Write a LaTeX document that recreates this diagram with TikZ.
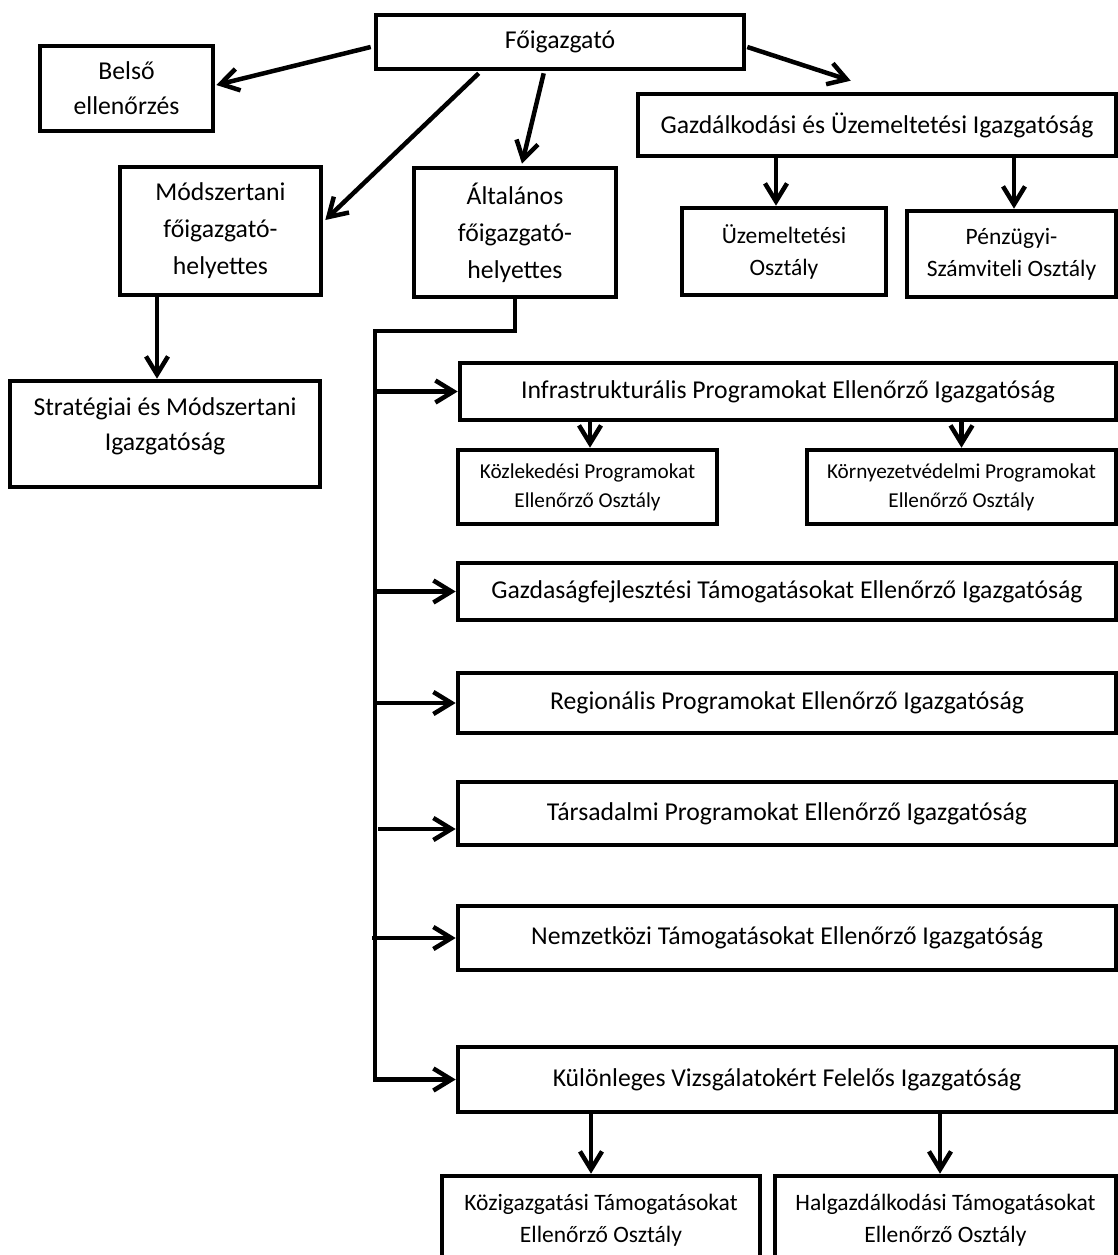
\documentclass[tikz,border=0pt]{standalone}
\usepackage{fontspec}
\setmainfont{Carlito}
\usetikzlibrary{arrows.meta,calc}
\begin{document}
\begin{tikzpicture}[x=1pt,y=-1pt,
  box/.style={draw, line width=4.6pt, inner sep=0pt, align=center, font=\fontsize{25.7}{36}\selectfont},
  midbox/.style={box, font=\fontsize{23.5}{32}\selectfont},
  smallbox/.style={box, font=\fontsize{21.2}{29}\selectfont},
  arr/.style={line width=4.5pt, line join=miter, -{Straight Barb[length=18pt,width=22pt]}}
]
\clip (0,0) rectangle (1118,1255);
\fill[white] (0,0) rectangle (1118,1255);

% top level
\node[box, minimum width=368pt, minimum height=54pt] (fo) at (560,42) {Főigazgató};
\node[box, minimum width=173pt, minimum height=85pt, font=\fontsize{25.7}{35}\selectfont] (belso) at (126.5,88.5) {Belső\\ellenőrzés};
\node[box, minimum width=478pt, minimum height=62pt] (gazd) at (877,125) {Gazdálkodási és Üzemeltetési Igazgatóság};
\node[box, minimum width=201pt, minimum height=128pt, font=\fontsize{25.7}{37}\selectfont] (modsz) at (220.5,231) {Módszertani\\főigazgató-\\helyettes};
\node[box, minimum width=202pt, minimum height=129pt, font=\fontsize{25.7}{37}\selectfont] (alt) at (515,232.5) {Általános\\főigazgató-\\helyettes};
\node[midbox, minimum width=204pt, minimum height=87pt] (uzem) at (784,251.5) {Üzemeltetési\\Osztály};
\node[midbox, minimum width=209pt, minimum height=86pt] (penz) at (1011.5,254) {Pénzügyi-\\Számviteli Osztály};
\node[box, minimum width=310pt, minimum height=106pt, font=\fontsize{25.7}{35}\selectfont] (strat) at (165,434) {Stratégiai és Módszertani\\Igazgatóság\rule[-20pt]{0pt}{1pt}};

% right column
\node[box, minimum width=656pt, minimum height=57pt] (infra) at (788,391.5) {Infrastrukturális Programokat Ellenőrző Igazgatóság};
\node[smallbox, minimum width=259pt, minimum height=74pt] (kozl) at (587.5,487) {Közlekedési Programokat\\Ellenőrző Osztály};
\node[smallbox, minimum width=309pt, minimum height=74pt] (kornye) at (961.5,487) {Környezetvédelmi Programokat\\Ellenőrző Osztály};
\node[box, minimum width=658pt, minimum height=57pt] (gfejl) at (787,591.5) {Gazdaságfejlesztési Támogatásokat Ellenőrző Igazgatóság};
\node[box, minimum width=658pt, minimum height=60pt] (reg) at (787,703) {Regionális Programokat Ellenőrző Igazgatóság};
\node[box, minimum width=658pt, minimum height=63pt] (tars) at (787,813.5) {Társadalmi Programokat Ellenőrző Igazgatóság};
\node[box, minimum width=658pt, minimum height=64pt] (nemz) at (787,938) {Nemzetközi Támogatásokat Ellenőrző Igazgatóság};
\node[box, minimum width=658pt, minimum height=65pt] (kul) at (787,1079.5) {Különleges Vizsgálatokért Felelős Igazgatóság};
\node[midbox, minimum width=318pt, minimum height=89pt] (kozig) at (601,1220.5) {Közigazgatási Támogatásokat\\Ellenőrző Osztály};
\node[midbox, minimum width=341pt, minimum height=89pt] (halg) at (945.5,1220.5) {Halgazdálkodási Támogatásokat\\Ellenőrző Osztály};

% arrows from Főigazgató
\draw[arr] ($(fo.west)+(-3,5)$) -- ($(belso.east)+(1,-3.5)$);
\draw[arr] ($(fo.south west)+(105,2)$) -- ($(modsz.east)+(2,-11)$);
\draw[arr] ($(fo.south west)+(170,2)$) -- ($(alt.north)+(7,-2)$);
\draw[arr] ($(fo.east)+(1,5)$) -- ($(gazd.north west)+(215,-11)$);

% Gazdálkodási children
\coordinate (u1) at ($(uzem.north)+(-8,0)$);
\draw[arr] (gazd.south -| u1) -- (u1);
\coordinate (p1) at ($(penz.north)+(2.5,0)$);
\draw[arr] (gazd.south -| p1) -- (p1);

% Módszertani child
\coordinate (s1) at ($(strat.north)+(-8,0)$);
\draw[arr] (modsz.south -| s1) -- (s1);

% bus from Általános
\coordinate (btop) at (375,331);
\coordinate (bbot) at (375,1079.5);
\draw[arr] (alt.south) |- (btop) -- (bbot) -- (kul.west);
\coordinate (j1) at (375,391.5);
\draw[arr] (j1) -- (infra.west);
\coordinate (j2) at (375,591.5);
\draw[arr] (j2) -- (gfejl.west);
\coordinate (j3) at (375,703);
\draw[arr] (j3) -- (reg.west);
\coordinate (j4) at (378,829);
\draw[arr] (j4) -- (j4 -| tars.west);
\coordinate (j5) at (372,938);
\draw[arr] (j5) -- (nemz.west);

% Infrastrukturális children
\coordinate (k1) at ($(kozl.north)+(2.5,0)$);
\draw[arr] (infra.south -| k1) -- (k1);
\draw[arr] (infra.south -| kornye.north) -- (kornye.north);

% Különleges children
\coordinate (z1) at ($(kozig.north)+(-10,0)$);
\draw[arr] (kul.south -| z1) -- (z1);
\coordinate (h1) at ($(halg.north)+(-5.5,0)$);
\draw[arr] (kul.south -| h1) -- (h1);
\end{tikzpicture}
\end{document}
